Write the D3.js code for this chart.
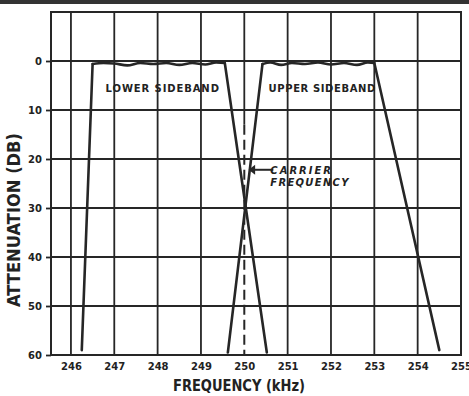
<!DOCTYPE html>
<html>
<head>
<meta charset="utf-8">
<script src="https://cdn.jsdelivr.net/npm/d3@7"></script>
<style>
  html, body { margin: 0; padding: 0; background: #fff; }
  svg { display: block; }
  text { font-family: "DejaVu Sans", sans-serif; fill: #222; }
</style>
</head>
<body>
<svg id="chart" width="469" height="396"></svg>
<script>
// ---- data ----
const xTicks = [246, 247, 248, 249, 250, 251, 252, 253, 254, 255];
const yTicks = [0, 10, 20, 30, 40, 50, 60];
const lowerFreq = [246.25, 246.5, 246.75, 247.0, 247.3, 247.6, 247.9, 248.2, 248.5, 248.8, 249.1, 249.35, 249.55, 250.52];
const lowerDb   = [59, 0.6, 0.4, 0.5, 0.9, 0.4, 0.6, 0.4, 0.8, 0.4, 0.7, 0.3, 0.4, 59.5];
const upperFreq = [249.62, 250.42, 250.6, 250.85, 251.1, 251.4, 251.7, 252.0, 252.3, 252.6, 252.85, 253.0, 254.5];
const upperDb   = [59.5, 0.6, 0.3, 0.8, 0.4, 0.6, 0.3, 0.7, 0.4, 0.8, 0.3, 0.4, 59];
const carrierFreq = 250;
const labels = { lower: "LOWER SIDEBAND", upper: "UPPER SIDEBAND", carrier1: "CARRIER", carrier2: "FREQUENCY",
                 xTitle: "FREQUENCY (kHz)", yTitle: "ATTENUATION (DB)" };

// ---- layout ----
const svg = d3.select("#chart");
const ink = "#262626";
const x = d3.scaleLinear().domain([245.54, 255]).range([51, 461]);
const y = d3.scaleLinear().domain([-10, 60]).range([12, 355]);

// top rule
svg.append("rect").attr("x", 0).attr("y", 0).attr("width", 469).attr("height", 4).attr("fill", "#333");

// grid
const g = svg.append("g");
g.selectAll("line.h").data(yTicks).join("line")
  .attr("x1", x.range()[0]).attr("x2", x.range()[1])
  .attr("y1", d => y(d)).attr("y2", d => y(d))
  .attr("stroke", ink).attr("stroke-width", 1.8);
g.selectAll("line.v").data(xTicks.filter(d => d !== carrierFreq)).join("line")
  .attr("x1", d => x(d)).attr("x2", d => x(d))
  .attr("y1", y(-10)).attr("y2", y(60))
  .attr("stroke", ink).attr("stroke-width", 1.8);
// carrier: solid upper part, dashed below
g.append("line").attr("x1", x(carrierFreq)).attr("x2", x(carrierFreq))
  .attr("y1", y(-10)).attr("y2", y(13)).attr("stroke", ink).attr("stroke-width", 1.8);
g.append("line").attr("x1", x(carrierFreq)).attr("x2", x(carrierFreq))
  .attr("y1", y(13)).attr("y2", y(60)).attr("stroke", ink).attr("stroke-width", 2)
  .attr("stroke-dasharray", "10,5");

// frame
svg.append("rect").attr("x", x.range()[0]).attr("y", y(-10))
  .attr("width", x.range()[1] - x.range()[0]).attr("height", y(60) - y(-10))
  .attr("fill", "none").attr("stroke", ink).attr("stroke-width", 2);

// axes (ticks + labels)
const yAxis = d3.axisLeft(y).tickValues(yTicks).tickSize(5).tickFormat(d3.format("d"));
const ya = svg.append("g").attr("transform", `translate(${x.range()[0]},0)`).call(yAxis);
ya.select(".domain").remove();
ya.selectAll("line").attr("stroke", ink).attr("stroke-width", 1.8);
ya.selectAll("text").attr("font-size", 10).attr("font-weight", "bold").attr("fill", ink)
  .attr("font-family", "DejaVu Sans").attr("dx", "-1");

const xAxis = d3.axisBottom(x).tickValues(xTicks).tickSize(0).tickPadding(8).tickFormat(d3.format("d"));
const xa = svg.append("g").attr("transform", `translate(0,${y(60)})`).call(xAxis);
xa.select(".domain").remove();
xa.selectAll("text").attr("font-size", 10).attr("font-weight", "bold").attr("fill", ink)
  .attr("font-family", "DejaVu Sans");

// curves: straight skirts, smooth rippled passband
const straight = d3.line().x(d => x(d[0])).y(d => y(d[1]));
const smooth = d3.line().x(d => x(d[0])).y(d => y(d[1])).curve(d3.curveMonotoneX);
function drawBand(fr, db) {
  const pts = fr.map((f, i) => [f, db[i]]);
  const n = pts.length;
  const grp = svg.append("g").attr("fill", "none").attr("stroke", ink)
    .attr("stroke-width", 2.6).attr("stroke-linejoin", "round").attr("stroke-linecap", "round");
  grp.append("path").attr("d", straight(pts.slice(0, 2)));
  grp.append("path").attr("d", smooth(pts.slice(1, n - 1)));
  grp.append("path").attr("d", straight(pts.slice(n - 2)));
}
drawBand(lowerFreq, lowerDb);
drawBand(upperFreq, upperDb);

// sideband labels
svg.append("text").attr("x", x(246.8)).attr("y", y(6.3)).text(labels.lower)
  .attr("font-size", 10).attr("font-weight", "bold").attr("letter-spacing", 0.9);
svg.append("text").attr("x", x(250.56)).attr("y", y(6.3)).text(labels.upper)
  .attr("font-size", 10).attr("font-weight", "bold").attr("letter-spacing", 0.6);

// carrier annotation
const ay = y(22.2);
svg.append("line").attr("x1", x(250.67)).attr("x2", x(250.2)).attr("y1", ay).attr("y2", ay)
  .attr("stroke", ink).attr("stroke-width", 2);
svg.append("path")
  .attr("d", `M${x(250.1)},${ay} L${x(250.25)},${ay - 5} L${x(250.25)},${ay + 5} Z`)
  .attr("fill", ink);
svg.append("text").attr("x", x(250.6)).attr("y", y(23.1)).text(labels.carrier1)
  .attr("font-size", 10).attr("font-weight", "bold").attr("font-style", "italic").attr("letter-spacing", 2);
svg.append("text").attr("x", x(250.6)).attr("y", y(25.5)).text(labels.carrier2)
  .attr("font-size", 10).attr("font-weight", "bold").attr("font-style", "italic").attr("letter-spacing", 1.3);

// axis titles
svg.append("text").attr("x", 239).attr("y", 391).attr("text-anchor", "middle")
  .attr("font-family", "Liberation Sans").attr("font-size", 16).attr("font-weight", "bold")
  .attr("textLength", 132).attr("lengthAdjust", "spacingAndGlyphs").text(labels.xTitle);
svg.append("text").attr("transform", "translate(20,220) rotate(-90)").attr("text-anchor", "middle")
  .attr("font-family", "Liberation Sans").attr("font-size", 17).attr("font-weight", "bold")
  .attr("textLength", 174).attr("lengthAdjust", "spacingAndGlyphs").text(labels.yTitle);
</script>
</body>
</html>
